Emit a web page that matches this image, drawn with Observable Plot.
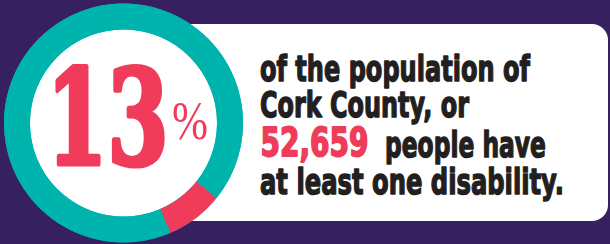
<!DOCTYPE html>
<html><head><meta charset="utf-8">
<script src="https://cdn.jsdelivr.net/npm/d3@7"></script>
<script src="https://cdn.jsdelivr.net/npm/@observablehq/plot@0.6"></script>
<style>
html,body{margin:0;padding:0;background:#36205f;}
#chart{width:610px;height:244px;overflow:hidden}
</style></head><body><div id="chart"></div>
<script>
// ---- data ----
const ringSegments = ["rest-a", "disability", "rest-b"];
const ringGroups = ["other", "disability", "other"];
const ringShares = [35.8, 7.8, 56.4];          // share of the ring, in percent, clockwise from 12 o'clock
const headlineValue = "13";
const headlineUnit = "%";
const highlightValue = "52,659";
const bodyLines = ["of the population of", "Cork County, or", "people have", "at least one disability."];

// ---- layout & style ----
const W = 610, H = 244;
const teal = "#00b4ae", red = "#f03c5a", ink = "#231f20", purple = "#36205f";
const cx = 123, cy = 122.5, rMid = 106.5, ringW = 26;

// sample each ring segment along its arc
let cum = 0;
const ringPts = [];
ringShares.forEach((s, i) => {
  const a0 = cum / 100 * 2 * Math.PI, a1 = (cum + s) / 100 * 2 * Math.PI;
  const n = Math.max(2, Math.ceil(s * 3.6));
  for (let k = 0; k <= n; k++) {
    const a = a0 + (a1 - a0) * k / n;
    ringPts.push({seg: ringSegments[i], group: ringGroups[i], x: cx + rMid * Math.sin(a), y: cy - rMid * Math.cos(a)});
  }
  cum += s;
});

const bodyRows = [
  {t: bodyLines[0], x: 259.5, y: 80},
  {t: bodyLines[1], x: 259.5, y: 116.5},
  {t: bodyLines[2], x: 384.5, y: 156},
  {t: bodyLines[3], x: 259.5, y: 193.5}
];
// target drawn width and vertical stretch for each text
const fit = {};
fit[headlineValue] = {w: 122, sy: 1.48};
fit[headlineUnit] = {w: 36, sy: 1.02};
fit[highlightValue] = {w: 108, sy: 1.16};
fit[bodyLines[0]] = {w: 270, sy: 1.17};
fit[bodyLines[1]] = {w: 209, sy: 1.17};
fit[bodyLines[2]] = {w: 161, sy: 1.17};
fit[bodyLines[3]] = {w: 304, sy: 1.17};

const svg = Plot.plot({
  width: W, height: H,
  margin: 0,
  style: {background: purple, overflow: "visible"},
  x: {domain: [0, W], range: [0, W], axis: null},
  y: {domain: [0, H], range: [0, H], axis: null},
  color: {domain: ["other", "disability"], range: [teal, red]},
  marks: [
    Plot.rect([0], {x1: 150, x2: 608, y1: 24, y2: 221, fill: "white", rx: 16}),
    Plot.dot([0], {x: () => cx, y: () => cy, r: rMid, fill: "white", stroke: teal, strokeWidth: ringW}),
    Plot.line(ringPts, {x: "x", y: "y", z: "seg", stroke: "group", strokeWidth: ringW, strokeLinecap: "butt", strokeLinejoin: "round"}),
    Plot.text([headlineValue], {x: () => 46, y: () => 163.5, text: d => d, textAnchor: "start", lineAnchor: "bottom",
      fontFamily: "DejaVu Serif", fontWeight: "bold", fontSize: 88, fill: red, stroke: red, strokeWidth: 3.5}),
    Plot.text([headlineUnit], {x: () => 171.5, y: () => 138, text: d => d, textAnchor: "start", lineAnchor: "bottom",
      fontFamily: "Liberation Sans Narrow", fontWeight: "normal", fontSize: 54, fill: red}),
    Plot.text([highlightValue], {x: () => 260, y: () => 155.5, text: d => d, textAnchor: "start", lineAnchor: "bottom",
      fontFamily: "DejaVu Sans", fontWeight: "bold", fontSize: 33, fill: red, stroke: red, strokeWidth: 1.6}),
    Plot.text(bodyRows, {x: "x", y: "y", text: "t", textAnchor: "start", lineAnchor: "bottom",
      fontFamily: "DejaVu Sans", fontWeight: "bold", fontSize: 31, fill: ink, stroke: ink, strokeWidth: 1.3})
  ]
});
document.getElementById("chart").append(svg);
svg.querySelectorAll("text").forEach(el => {
  const f = fit[el.textContent];
  if (!f) return;
  const nat = el.getComputedTextLength();
  const sx = f.w / nat, sy = f.sy;
  const t = el.getAttribute("transform");
  if (t) el.setAttribute("transform", `${t} scale(${sx},${sy})`);
  else {
    const x = +el.getAttribute("x") || 0, y = +el.getAttribute("y") || 0;
    el.setAttribute("transform", `translate(${x},${y}) scale(${sx},${sy}) translate(${-x},${-y})`);
  }
});
</script></body></html>
